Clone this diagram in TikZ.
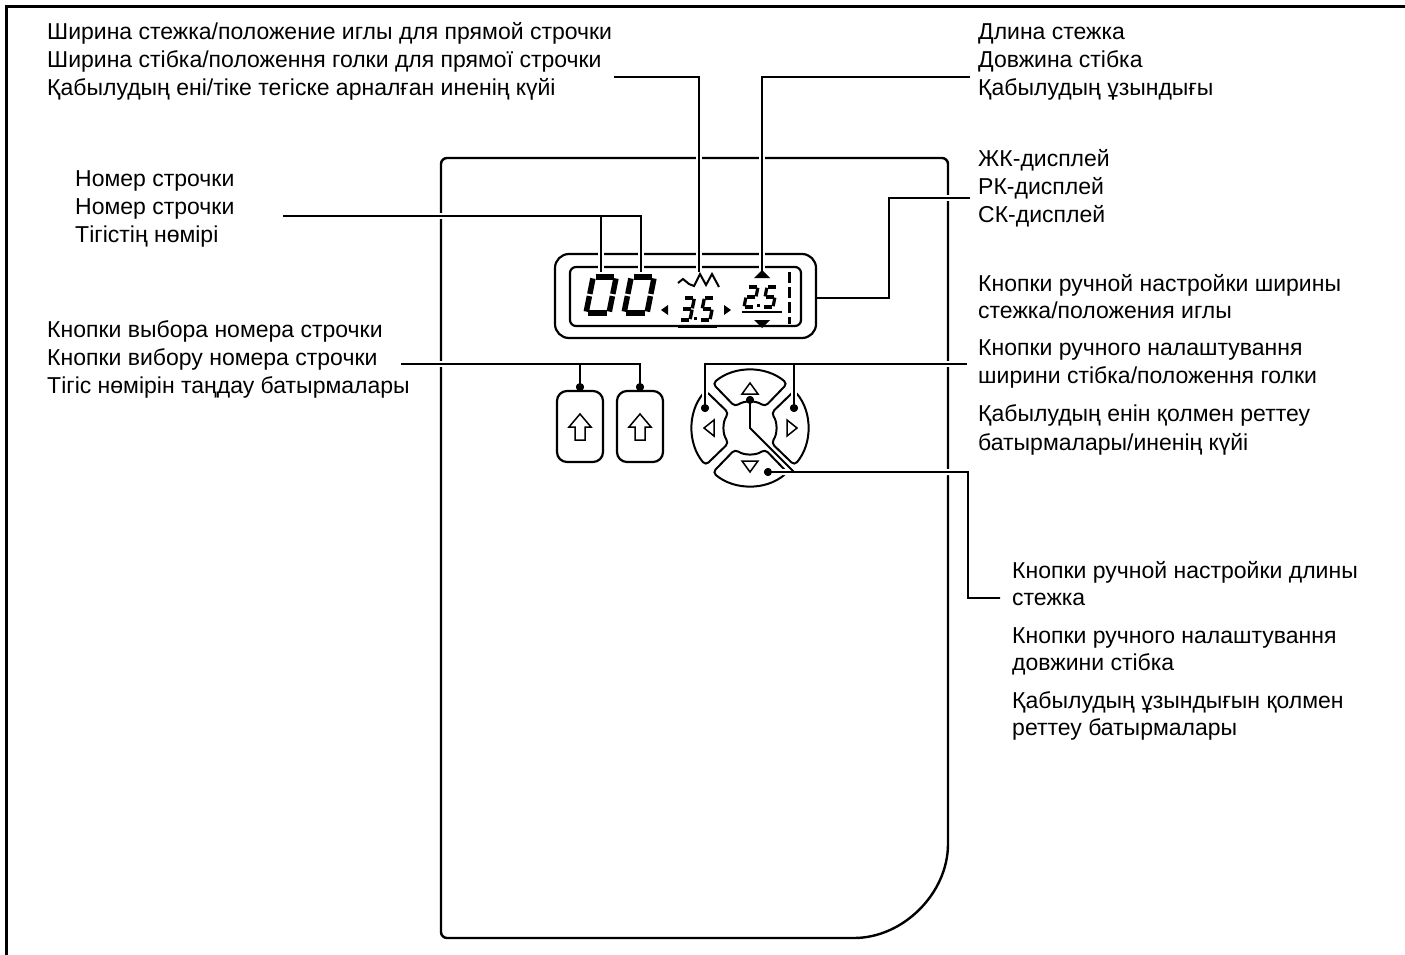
\documentclass[tikz,border=0pt]{standalone}
\usepackage{fontspec}
\setmainfont{Liberation Sans}
\newcommand\tl[4]{\node[lbl] (#1) at (#2,#3) {#4};}
\newcommand\sevdig[6]{\begin{scope}[shift={(#1,#2)},x=#3pt,y=#4pt,xslant=0.2,line width=#5pt,line cap=butt]#6\end{scope}}
\newcommand\segA{\draw (0.1,2)--(0.9,2);}
\newcommand\segB{\draw (1,1.92)--(1,1.06);}
\newcommand\segC{\draw (1,0.94)--(1,0.08);}
\newcommand\segD{\draw (0.1,0)--(0.9,0);}
\newcommand\segE{\draw (0,0.08)--(0,0.94);}
\newcommand\segF{\draw (0,1.06)--(0,1.92);}
\newcommand\segG{\draw (0.1,1)--(0.9,1);}
\newcommand\padseg[1]{\draw[padline] (#1-40:58) arc[start angle=#1-40,end angle=#1+40,radius=58] -- (#1+35:26) arc[start angle=#1+35,end angle=#1-35,radius=26] -- cycle;}
\begin{document}
\begin{tikzpicture}[x=1pt,y=-1pt,
  lbl/.style={font=\fontsize{23}{27}\selectfont, anchor=base west, inner sep=0pt},
  panel/.style={draw=black, line width=2.4pt},
  displine/.style={draw=black, line width=2.2pt},
  padline/.style={draw=black, line width=2pt, rounded corners=4pt},
  leader/.style={draw=black, line width=1.8pt, preaction={draw=white, line width=6pt}},
  leaderend/.style={draw=black, line width=1.8pt, preaction={draw=white, line width=6pt, shorten >=4pt}},
  dotmark/.style={circle, fill=black, inner sep=0pt, minimum size=8pt},
  symb/.style={draw=black, line width=1.5pt, line join=miter},
]
\useasboundingbox (0,0) rectangle (1405,955);
% outer frame
\draw[line width=3pt] (6,955) -- (6,7) -- (1405,7);

% panel
\draw[panel, rounded corners=6pt] (700,158) -- (948,158) -- (948,838) arc[start angle=0,end angle=90,radius=100] -- (441,938) -- (441,158) -- cycle;

% display borders
\draw[displine, rounded corners=14pt] (555,254) rectangle (816,338);
\draw[displine, rounded corners=6pt] (570,267) rectangle (801,326);

% buttons
\draw[displine, rounded corners=10pt] (557,391) rectangle (603,462);
\draw[displine, rounded corners=10pt] (617,391) rectangle (663,462);

% arrow pad
\begin{scope}[shift={(750,428)}]
\padseg{270}
\padseg{0}
\padseg{90}
\padseg{180}
\end{scope}

% labels
\tl{ta1}{47}{40}{Ширина стежка/положение иглы для прямой строчки}
\tl{ta2}{47}{68}{Ширина стібка/положення голки для прямої строчки}
\tl{ta3}{47}{96}{Қабылудың ені/тіке тегіске арналған иненің күйі}
\tl{tb1}{75}{186}{Номер строчки}
\tl{tb2}{75}{214}{Номер строчки}
\tl{tb3}{75}{242}{Тігістің нөмірі}
\tl{tc1}{47}{337}{Кнопки выбора номера строчки}
\tl{tc2}{47}{365}{Кнопки вибору номера строчки}
\tl{tc3}{47}{393}{Тігіс нөмірін таңдау батырмалары}
\tl{td1}{978}{40}{Длина стежка}
\tl{td2}{978}{68}{Довжина стібка}
\tl{td3}{978}{96}{Қабылудың ұзындығы}
\tl{te1}{978}{166}{ЖК-дисплей}
\tl{te2}{978}{194}{РК-дисплей}
\tl{te3}{978}{222}{СК-дисплей}
\tl{tf1}{978}{291}{Кнопки ручной настройки ширины}
\tl{tf2}{978}{318}{стежка/положения иглы}
\tl{tf3}{978}{355}{Кнопки ручного налаштування}
\tl{tf4}{978}{383}{ширини стібка/положення голки}
\tl{tf5}{978}{421}{Қабылудың енін қолмен реттеу}
\tl{tf6}{978}{450}{батырмалары/иненің күйі}
\tl{tg1}{1012}{578}{Кнопки ручной настройки длины}
\tl{tg2}{1012}{605}{стежка}
\tl{tg3}{1012}{643}{Кнопки ручного налаштування}
\tl{tg4}{1012}{670}{довжини стібка}
\tl{tg5}{1012}{708}{Қабылудың ұзындығын қолмен}
\tl{tg6}{1012}{735}{реттеу батырмалары}

% leader coordinates
\coordinate (l1a) at (614,77); \coordinate (l1b) at (699,77); \coordinate (l1c) at (699,272);
\coordinate (r1a) at (970,77); \coordinate (r1b) at (762,77); \coordinate (r1c) at (762,271);
\coordinate (n1) at (283,216); \coordinate (n2) at (601,216); \coordinate (n3) at (641,216);
\coordinate (n2e) at (601,272); \coordinate (n3e) at (641,272);
\coordinate (k1) at (401,364); \coordinate (k2) at (580,364); \coordinate (k3) at (640,364);
\coordinate (j1) at (970,198); \coordinate (j2) at (889,198); \coordinate (j3) at (889,298); \coordinate (j4) at (816,298);
\coordinate (w1) at (967,364); \coordinate (w2) at (794,364); \coordinate (w3) at (705,364);
\coordinate (g1) at (1000,598); \coordinate (g2) at (968,598); \coordinate (g3) at (968,472);
\coordinate (g4) at (794,472); \coordinate (g5) at (750,428);

% dots
\node[dotmark] (dk2) at (580,387) {};
\node[dotmark] (dk3) at (640,387) {};
\node[dotmark] (dwl) at (705,408) {};
\node[dotmark] (dwr) at (794,408) {};
\node[dotmark] (dgt) at (750,400) {};
\node[dotmark] (dgb) at (768,472) {};

% leaders
\draw[leader] (l1a) -- (l1b) -- (l1c);
\draw[leader] (r1a) -- (r1b) -- (r1c);
\draw[leader] (n1) -- (n3) -- (n3e) (n2) -- (n2e);
\draw[leader] (k1) -- (k3) -- (dk3.center) (k2) -- (dk2.center);
\draw[leaderend] (j1) -- (j2) -- (j3) -- (j4);
\draw[leader] (w1) -- (w3) -- (dwl.center) (w2) -- (dwr.center);
\draw[leader] (dgb.center) -- (g3) -- (g2) -- (g1) (dgt.center) -- (g5) -- (g4);

% redraw dots on top
\foreach \d in {dk2,dk3,dwl,dwr,dgt,dgb} {\fill (\d) circle[radius=4pt];}

% display contents
\sevdig{586}{313}{23}{18}{5.5}{\segA\segB\segC\segD\segE\segF}
\sevdig{624}{313}{23}{18}{5.5}{\segA\segB\segC\segD\segE\segF}
\fill (661,310) -- (668,305) -- (668,315) -- cycle;
\draw[line width=2pt, line join=miter] (678,283) -- (683,279) -- (689,284) -- (694,286) -- (700,274) -- (706,285) -- (712,274) -- (719,287);
\sevdig{680}{320}{10}{11}{3.4}{\segA\segB\segC\segD\segG}
\fill (694,317) rectangle (697,320);
\sevdig{700}{320}{10}{11}{3.4}{\segA\segF\segG\segC\segD}
\draw[line width=2.5pt] (678,327) -- (717,327);
\fill (731,310) -- (724,305) -- (724,315) -- cycle;
\fill (762,270) -- (770,278) -- (754,278) -- cycle;
\sevdig{744}{307}{10}{10}{3.2}{\segA\segB\segG\segE\segD}
\fill (757,304) rectangle (760,307);
\sevdig{763}{307}{10}{10}{3.2}{\segA\segF\segG\segC\segD}
\draw[line width=2.5pt] (742,312) -- (782,312);
\fill (762,328) -- (770,320) -- (754,320) -- cycle;
\draw[line width=3pt, dash pattern=on 11pt off 4pt] (789,272) -- (789,324);

% button arrows
\draw[symb] (580,414) -- (591,427) -- (585,427) -- (585,440) -- (575,440) -- (575,427) -- (569,427) -- cycle;
\draw[symb] (640,414) -- (651,427) -- (645,427) -- (645,440) -- (635,440) -- (635,427) -- (629,427) -- cycle;

% pad triangles
\draw[symb] (750,383) -- (758,394) -- (742,394) -- cycle;
\draw[symb] (704,428) -- (714,420) -- (714,436) -- cycle;
\draw[symb] (797,428) -- (787,420) -- (787,436) -- cycle;
\draw[symb] (750,472) -- (758,461) -- (742,461) -- cycle;
\end{tikzpicture}
\end{document}
